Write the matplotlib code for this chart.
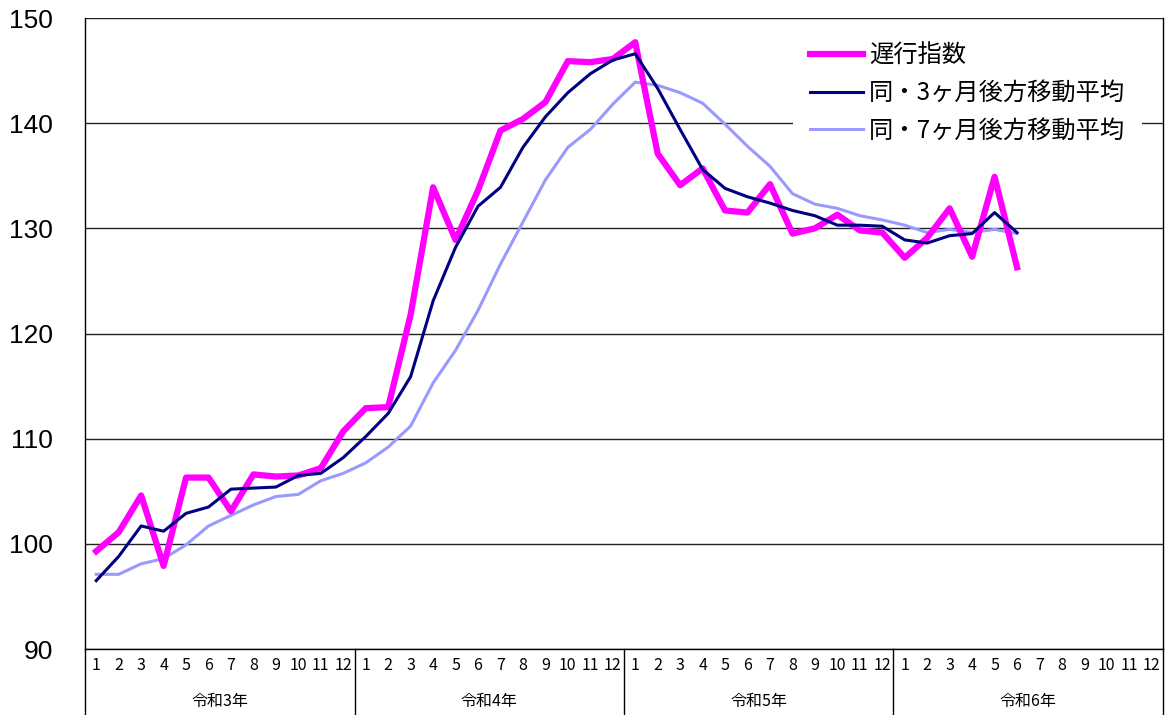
import matplotlib
matplotlib.use('Agg')
import matplotlib.pyplot as plt
import matplotlib.transforms as mtransforms

plt.rcParams['font.family'] = ['Noto Sans CJK JP', 'DejaVu Sans']

years = ['令和3年', '令和4年', '令和5年', '令和6年']
months = [str(m) for m in range(1, 13)]

# 遅行指数 (令和3年1月〜令和6年6月)
lagging = [99.3, 101.1, 104.6, 97.9, 106.3, 106.3, 103.1, 106.6, 106.4, 106.5, 107.2, 110.7,
           112.9, 113.0, 121.8, 133.9, 128.9, 133.6, 139.3, 140.4, 142.0, 145.9, 145.8, 146.1,
           147.7, 137.1, 134.1, 135.7, 131.7, 131.5, 134.2, 129.5, 130.0, 131.3, 129.8, 129.6,
           127.2, 129.1, 131.9, 127.3, 134.9, 126.3]
# 3ヶ月後方移動平均
ma3 = [96.5, 98.8, 101.7, 101.2, 102.9, 103.5, 105.2, 105.3, 105.4, 106.5, 106.7, 108.2,
       110.2, 112.4, 115.9, 123.1, 128.2, 132.1, 133.9, 137.7, 140.6, 142.9, 144.7, 146.0,
       146.6, 143.3, 139.4, 135.6, 133.8, 133.0, 132.4, 131.7, 131.2, 130.3, 130.3, 130.2,
       128.9, 128.6, 129.3, 129.5, 131.5, 129.6]
# 7ヶ月後方移動平均
ma7 = [97.1, 97.1, 98.1, 98.6, 99.9, 101.7, 102.7, 103.7, 104.5, 104.7, 106.0, 106.7,
       107.7, 109.2, 111.2, 115.3, 118.4, 122.2, 126.6, 130.6, 134.6, 137.7, 139.4, 141.8,
       143.9, 143.6, 142.9, 141.9, 139.9, 137.8, 135.9, 133.3, 132.3, 131.9, 131.2, 130.8,
       130.3, 129.6, 129.9, 129.6, 129.9, 129.5]

n_total = len(years) * len(months)

fig = plt.figure(figsize=(11.65, 7.15), dpi=100)
ax = fig.add_axes([85 / 1165, 66 / 715, 1078 / 1165, 631 / 715])

x = list(range(len(lagging)))
ax.plot(x, lagging, color='#FF00FF', lw=4.5, label='遅行指数', zorder=3)
ax.plot(x, ma3, color='#000080', lw=2.2, label='同・3ヶ月後方移動平均', zorder=4)
ax.plot(x, ma7, color='#9999FF', lw=2.2, label='同・7ヶ月後方移動平均', zorder=2)

ax.set_xlim(-0.5, n_total - 0.5)
ax.set_ylim(90, 150)
ax.set_yticks(range(90, 151, 10))
ax.tick_params(axis='y', labelsize=19, length=0, pad=23)
for lbl in ax.get_yticklabels():
    lbl.set_family('Liberation Sans')
ax.grid(axis='y', color='#222222', lw=1)
ax.set_axisbelow(True)
for s in ax.spines.values():
    s.set_color('black')
    s.set_linewidth(1)
ax.spines['top'].set_visible(False)

ax.set_xticks(range(n_total))
ax.set_xticklabels(months * len(years), fontsize=11.5)
ax.tick_params(axis='x', length=0, pad=6)

trans = mtransforms.blended_transform_factory(ax.transData, ax.transAxes)
for k, yr in enumerate(years):
    ax.text(k * 12 + 5.5, -0.083, yr, transform=trans, ha='center', va='center', fontsize=11.5)
for k in range(len(years) + 1):
    ax.plot([k * 12 - 0.5, k * 12 - 0.5], [0, -0.105], transform=trans, color='black',
            lw=1, clip_on=False)

leg = ax.legend(loc='upper left', bbox_to_anchor=((800 - 85) / 1078, (649 - 33) / 631),
                frameon=True, fontsize=17.5, handlelength=2.2, handletextpad=0.25,
                labelspacing=0.47, borderaxespad=0, borderpad=0.4)
leg.get_frame().set_edgecolor('none')
leg.get_frame().set_facecolor('white')
leg.get_frame().set_alpha(1)
leg.get_frame().set_boxstyle('square', pad=0.3)

fig.savefig('out.png', dpi=100)
